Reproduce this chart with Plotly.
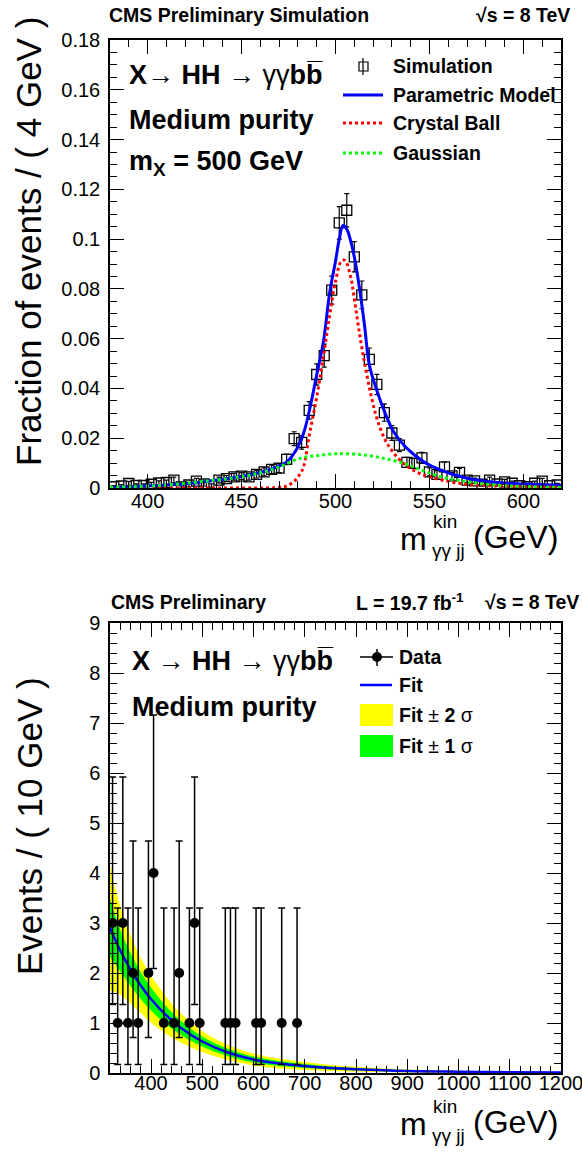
import plotly.graph_objects as go

W, H = 582, 1152
FONT = "Liberation Sans, Arial, Helvetica, sans-serif"

# ---------------- top panel data (fraction of events / 4 GeV) ----------------
sim_mass = [382, 386, 390, 394, 398, 402, 406, 410, 414, 418, 422, 426, 430, 434, 438,
            442, 446, 450, 454, 458, 462, 466, 470, 474, 478, 482, 486, 490, 494, 498,
            502, 506, 510, 514, 518, 522, 526, 530, 534, 538, 542, 546, 550, 554, 558,
            562, 566, 570, 574, 578, 582, 586, 590, 594, 598, 602, 606, 610, 614, 618]
sim_frac = [0.0005, 0.0008, 0.0018, 0.0010, 0.0010, 0.0015, 0.0020, 0.0022, 0.0032, 0.0004,
            0.0012, 0.0028, 0.0016, 0.0010, 0.0032, 0.0038, 0.0045, 0.0048, 0.0045, 0.0055,
            0.0065, 0.0075, 0.0080, 0.0115, 0.0198, 0.0183, 0.0312, 0.0456, 0.0532, 0.0795,
            0.1065, 0.1116, 0.0929, 0.0776, 0.0517, 0.0416, 0.0303, 0.0221, 0.0172, 0.0103,
            0.0099, 0.0121, 0.0065, 0.0055, 0.0085, 0.0049, 0.0063, 0.0032, 0.0029, 0.0015,
            0.0032, 0.0016, 0.0025, 0.0019, 0.0009, 0.0005, 0.0019, 0.0028, 0.0009, 0.0012]
sim_err = [0.00045, 0.00057, 0.00085, 0.00063, 0.00063, 0.00077, 0.00089, 0.00094, 0.00113, 0.0004,
           0.00069, 0.00106, 0.0008, 0.00063, 0.00113, 0.00123, 0.00134, 0.00139, 0.00134, 0.00148,
           0.00161, 0.00173, 0.00179, 0.00214, 0.00281, 0.00271, 0.00353, 0.00427, 0.00461, 0.00564,
           0.00653, 0.00668, 0.0061, 0.00557, 0.00455, 0.00408, 0.00348, 0.00297, 0.00262, 0.00203,
           0.00199, 0.0022, 0.00161, 0.00148, 0.00184, 0.0014, 0.00159, 0.00113, 0.00108, 0.00077,
           0.00113, 0.0008, 0.001, 0.00087, 0.0006, 0.00045, 0.00087, 0.00106, 0.0006, 0.00069]

model_mass = [380, 392, 405, 419, 437, 454, 467, 474, 479, 483, 486.5, 490, 493.5, 497, 500,
              502, 504, 506, 508, 510.5, 513, 515.5, 518, 522, 526.5, 531, 538, 547, 556,
              570, 582, 600, 620]
model_frac = [0.0003, 0.0005, 0.0010, 0.0016, 0.0032, 0.0052, 0.0079, 0.0105, 0.0152, 0.0220,
              0.0325, 0.0455, 0.0585, 0.0790, 0.0910, 0.1000, 0.1055, 0.1040, 0.0995, 0.0910,
              0.0790, 0.0650, 0.0495, 0.0392, 0.0299, 0.0225, 0.0159, 0.0105, 0.0072, 0.0039,
              0.0025, 0.0016, 0.0011]

cb_mass = [380, 440, 470, 474, 478, 481, 483, 486, 490, 494, 497, 500, 503, 505, 508, 510,
           513, 516, 519, 522, 526, 530, 536, 543, 550, 561, 573, 591, 620]
cb_frac = [0.0, 0.0, 0.0002, 0.0008, 0.0027, 0.0055, 0.0085, 0.0210, 0.0365, 0.0550, 0.0700,
           0.0830, 0.0910, 0.0915, 0.0850, 0.0760, 0.0610, 0.0480, 0.0370, 0.0280, 0.0200,
           0.0150, 0.0100, 0.0065, 0.0045, 0.0025, 0.0013, 0.0007, 0.0003]

gaus_mass = [380, 392, 410, 428, 446, 460, 470, 481, 490, 499, 505, 515, 525, 536, 543,
             556, 570, 585, 600, 620]
gaus_frac = [0.0003, 0.0005, 0.0012, 0.0025, 0.0041, 0.0061, 0.0085, 0.0119, 0.0130, 0.0137,
             0.0138, 0.0133, 0.0120, 0.0100, 0.0080, 0.0045, 0.0025, 0.0012, 0.0006, 0.0002]

# ---------------- bottom panel data (events / 10 GeV) ----------------
data_mass = [325, 335, 345, 355, 365, 375, 395, 405, 425, 445, 455, 475, 485, 495,
             545, 555, 565, 605, 615, 655, 685]
data_events = [3, 1, 3, 1, 2, 1, 2, 4, 1, 1, 2, 1, 3, 1, 1, 1, 1, 1, 1, 1, 1]
data_err_hi = [2.92, 2.30, 2.92, 2.30, 2.64, 2.30, 2.64, 3.16, 2.30, 2.30, 2.64, 2.30, 2.92, 2.30,
               2.30, 2.30, 2.30, 2.30, 2.30, 2.30, 2.30]
data_err_lo = [1.63, 0.83, 1.63, 0.83, 1.29, 0.83, 1.29, 1.91, 0.83, 0.83, 1.29, 0.83, 1.63, 0.83,
               0.83, 0.83, 0.83, 0.83, 0.83, 0.83, 0.83]

fit_mass = [320, 340, 360, 380, 400, 430, 460, 500, 550, 600, 650, 700, 750, 800, 900, 1000, 1100, 1200]
fit_events = [2.90, 2.45, 2.07, 1.75, 1.48, 1.15, 0.89, 0.63, 0.41, 0.27, 0.19, 0.14, 0.10, 0.075,
              0.04, 0.025, 0.015, 0.01]
fit_1sig = [0.58, 0.42, 0.33, 0.27, 0.23, 0.18, 0.14, 0.10, 0.075, 0.06, 0.05, 0.04, 0.03, 0.025,
            0.015, 0.01, 0.007, 0.005]
fit_2sig = [1.25, 0.88, 0.68, 0.55, 0.47, 0.37, 0.29, 0.21, 0.15, 0.12, 0.10, 0.08, 0.06, 0.05,
            0.03, 0.02, 0.014, 0.01]


def P(x):
    return x / W


def Q(y):
    return 1 - y / H


fig = go.Figure()

# top panel
fig.add_trace(go.Scatter(
    x=sim_mass, y=sim_frac, mode="markers", xaxis="x", yaxis="y",
    marker=dict(symbol="square-open", size=10, color="black", line=dict(width=1.3, color="black")),
    error_y=dict(type="data", array=sim_err, color="black", thickness=1.2, width=2.5),
    showlegend=False))
fig.add_trace(go.Scatter(x=model_mass, y=model_frac, mode="lines", line=dict(color="#0000ff", width=3, shape="spline"),
                         xaxis="x", yaxis="y", showlegend=False))
fig.add_trace(go.Scatter(x=cb_mass, y=cb_frac, mode="lines",
                         line=dict(color="#ff0000", width=3, dash="dot", shape="spline"),
                         xaxis="x", yaxis="y", showlegend=False))
fig.add_trace(go.Scatter(x=gaus_mass, y=gaus_frac, mode="lines",
                         line=dict(color="#00ff00", width=3, dash="dot", shape="spline"),
                         xaxis="x", yaxis="y", showlegend=False))

# bottom panel bands
lo2 = [c - e for c, e in zip(fit_events, fit_2sig)]
hi2 = [c + e for c, e in zip(fit_events, fit_2sig)]
lo1 = [c - e for c, e in zip(fit_events, fit_1sig)]
hi1 = [c + e for c, e in zip(fit_events, fit_1sig)]
fig.add_trace(go.Scatter(x=fit_mass, y=lo2, mode="lines", line=dict(width=0, shape="spline"),
                         xaxis="x2", yaxis="y2", showlegend=False, hoverinfo="skip"))
fig.add_trace(go.Scatter(x=fit_mass, y=hi2, mode="lines", line=dict(width=0, shape="spline"), fill="tonexty",
                         fillcolor="#ffff00", xaxis="x2", yaxis="y2", showlegend=False, hoverinfo="skip"))
fig.add_trace(go.Scatter(x=fit_mass, y=lo1, mode="lines", line=dict(width=0, shape="spline"),
                         xaxis="x2", yaxis="y2", showlegend=False, hoverinfo="skip"))
fig.add_trace(go.Scatter(x=fit_mass, y=hi1, mode="lines", line=dict(width=0, shape="spline"), fill="tonexty",
                         fillcolor="#00ff00", xaxis="x2", yaxis="y2", showlegend=False, hoverinfo="skip"))
fig.add_trace(go.Scatter(x=fit_mass, y=fit_events, mode="lines", line=dict(color="#0000ff", width=2.5, shape="spline"),
                         xaxis="x2", yaxis="y2", showlegend=False))
fig.add_trace(go.Scatter(
    x=data_mass, y=data_events, mode="markers", xaxis="x2", yaxis="y2",
    marker=dict(symbol="circle", size=10, color="black"),
    error_y=dict(type="data", symmetric=False, array=data_err_hi, arrayminus=data_err_lo,
                 color="black", thickness=1.5, width=3.5),
    showlegend=False))

axis_common = dict(showline=True, linecolor="black", linewidth=1.5, mirror="allticks",
                   ticks="inside", ticklen=14, tickwidth=1.2, tickcolor="black",
                   showgrid=False, zeroline=False, automargin=False, ticklabeloverflow="allow",
                   tickfont=dict(family=FONT, size=20, color="black"))

fig.update_layout(
    width=W, height=H, margin=dict(l=0, r=0, t=0, b=0, pad=0, autoexpand=False),
    paper_bgcolor="white", plot_bgcolor="white",
    font=dict(family=FONT, color="black"),
    xaxis=dict(domain=[P(110), P(561)], anchor="y", range=[380, 620], dtick=50, tick0=0,
               minor=dict(ticks="inside", ticklen=7, dtick=10, tickcolor="black", tickwidth=1.2),
               ticklabelstandoff=-6, **axis_common),
    yaxis=dict(domain=[Q(488), Q(40)], anchor="x", range=[0, 0.18], dtick=0.02, tick0=0,
               minor=dict(ticks="inside", ticklen=7, dtick=0.005, tickcolor="black", tickwidth=1.2),
               ticklabelstandoff=4, **axis_common),
    xaxis2=dict(domain=[P(110), P(561)], anchor="y2", range=[320, 1200], dtick=100, tick0=0,
                minor=dict(ticks="inside", ticklen=7, dtick=20, tickcolor="black", tickwidth=1.2),
                ticklabelstandoff=-9, **axis_common),
    yaxis2=dict(domain=[Q(1073), Q(623)], anchor="x2", range=[0, 9], dtick=1, tick0=0,
                minor=dict(ticks="inside", ticklen=7, dtick=0.2, tickcolor="black", tickwidth=1.2),
                ticklabelstandoff=4, **axis_common),
)

ann = []


def text(x, y, s, size, xanchor="left", angle=0):
    ann.append(dict(x=P(x), y=Q(y), xref="paper", yref="paper", text=s, showarrow=False,
                    xanchor=xanchor, yanchor="middle", textangle=angle, borderpad=0,
                    font=dict(family=FONT, size=size, color="black")))


# top panel texts
text(108, 15, "<b>CMS Preliminary Simulation</b>", 19.5)
text(571, 15, "<b>\u221As = 8 TeV</b>", 19.5, "right")
text(128, 75, "<b>X</b>\u2192 <b>HH</b> \u2192 \u03b3\u03b3<b>bb\u0305</b>", 27)
text(128, 120, "<b>Medium purity</b>", 27)
text(128, 163, "<b>m<sub>X</sub> = 500 GeV</b>", 27)
text(29, 242, "Fraction of events / ( 4 GeV )", 35, "center", -90)
for dy in (0, 585):
    text(428, 539 + dy, "m", 32, "right")
    text(432, 521 + dy, "kin", 19)
    text(431, 550 + dy, "\u03b3\u03b3 jj", 19)
    text(559, 537 + dy, "(GeV)", 32, "right")

# top legend
text(392, 66, "<b>Simulation</b>", 19.5)
text(392, 95, "<b>Parametric Model</b>", 19.5)
text(392, 123, "<b>Crystal Ball</b>", 19.5)
text(392, 153, "<b>Gaussian</b>", 19.5)

# bottom panel texts
text(110, 602, "<b>CMS Preliminary</b>", 19.5)
text(355, 602, "<b>L = 19.7 fb<sup>-1</sup></b>", 19.5)
text(580, 602, "<b>\u221As = 8 TeV</b>", 19.5, "right")
text(131, 661, "<b>X</b> \u2192 <b>HH</b> \u2192 \u03b3\u03b3<b>bb\u0305</b>", 27)
text(131, 707, "<b>Medium purity</b>", 27)
text(29, 826, "Events / ( 10 GeV )", 35, "center", -90)

# bottom legend
text(398, 657, "<b>Data</b>", 19.5)
text(398, 685, "<b>Fit</b>", 19.5)
text(398, 715, "<b>Fit</b> \u00b1 <b>2</b> \u03c3", 19.5)
text(398, 746, "<b>Fit</b> \u00b1 <b>1</b> \u03c3", 19.5)

shapes = []


def line(x0, y0, x1, y1, color, width, dash="solid"):
    shapes.append(dict(type="line", xref="paper", yref="paper", x0=P(x0), y0=Q(y0), x1=P(x1), y1=Q(y1),
                       line=dict(color=color, width=width, dash=dash)))


def rect(x0, y0, x1, y1, fill, lc=None, lw=0):
    shapes.append(dict(type="rect", xref="paper", yref="paper", x0=P(x0), y0=Q(y0), x1=P(x1), y1=Q(y1),
                       fillcolor=fill, line=dict(color=lc or fill, width=lw)))


# top legend symbols
line(363, 58, 363, 75, "black", 1.2)
rect(359, 62, 368, 71, "rgba(0,0,0,0)", "black", 1.2)
line(343, 95, 383, 95, "#0000ff", 3)
line(343, 123, 383, 123, "#ff0000", 3, "dot")
line(343, 153, 383, 153, "#00ff00", 3, "dot")

# bottom legend symbols
line(360, 657, 393, 657, "black", 1.5)
line(377, 649, 377, 666, "black", 1.5)
shapes.append(dict(type="circle", xref="paper", yref="paper", x0=P(372), y0=Q(662), x1=P(382), y1=Q(652),
                   fillcolor="black", line=dict(color="black", width=0)))
line(360, 685, 392, 685, "#0000ff", 2.5)
rect(360, 704, 393, 726, "#ffff00")
rect(360, 735, 393, 757, "#00ff00")

fig.update_layout(annotations=ann, shapes=shapes)
fig.write_html("out.html", config={"displayModeBar": False},
               post_script="document.body.style.margin='0';document.body.style.overflow='hidden';")
